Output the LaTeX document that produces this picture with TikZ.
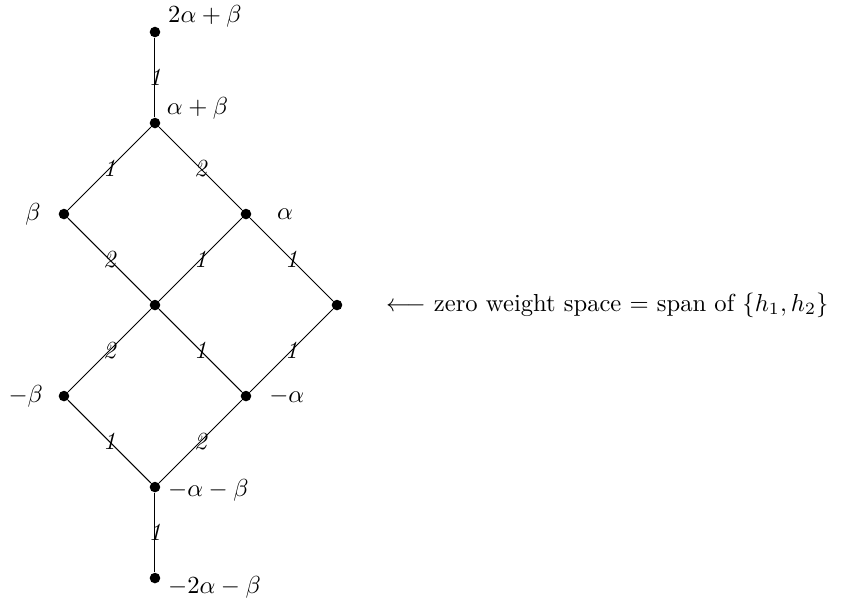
\documentclass[tikz,border=0pt]{standalone}
\usepackage{amsmath,amssymb}
\usepackage{tikz}
\usetikzlibrary{positioning}

\begin{document}
\begin{tikzpicture}[x=1.30cm,y=1.30cm,
  wt/.style={circle,fill=black,inner sep=0pt,minimum size=4.3pt},
  mult/.style={font=\itshape,inner sep=0pt}]
\useasboundingbox (-1.703,-3.264) rectangle (7.538,3.352);
% weights
\node[wt] (t2) at (0,3) {};
\node[wt] (t1) at (0,2) {};
\node[wt] (b) at (-1,1) {};
\node[wt] (a) at (1,1) {};
\node[wt] (z1) at (0,0) {};
\node[wt] (z2) at (2,0) {};
\node[wt] (mb) at (-1,-1) {};
\node[wt] (ma) at (1,-1) {};
\node[wt] (b1) at (0,-2) {};
\node[wt] (b2) at (0,-3) {};
% weight labels
\node[right=-0.5pt of t2,yshift=6.5pt] (lt2) {$2\alpha+\beta$};
\node[right=-1pt of t1,yshift=6.1pt] (lt1) {$\alpha+\beta$};
\node[left=3.6pt of b] (lb) {$\beta$};
\node[right=6.8pt of a] (la) {$\alpha$};
\node[left=2.7pt of mb] (lmb) {$-\beta$};
\node[right=3.6pt of ma] (lma) {$-\alpha$};
\node[right=-0.5pt of b1,yshift=-1.5pt] (lb1) {$-\alpha-\beta$};
\node[right=-0.5pt of b2,yshift=-3.7pt] (lb2) {$-2\alpha-\beta$};
\node[right=14.1pt of z2] (lz) {$\longleftarrow$ zero weight space $=$ span of $\{h_1,h_2\}$};
% strings
\draw (t2) -- node[mult] (m1) {1} (t1);
\draw (t1) -- node[mult] (m2) {1} (b);
\draw (t1) -- node[mult] (m3) {2} (a);
\draw (b) -- node[mult] (m4) {2} (z1);
\draw (a) -- node[mult] (m5) {1} (z1);
\draw (a) -- node[mult] (m6) {1} (z2);
\draw (z1) -- node[mult] (m7) {2} (mb);
\draw (z1) -- node[mult] (m8) {1} (ma);
\draw (z2) -- node[mult] (m9) {1} (ma);
\draw (mb) -- node[mult] (m10) {1} (b1);
\draw (ma) -- node[mult] (m11) {2} (b1);
\draw (b1) -- node[mult] (m12) {1} (b2);
\end{tikzpicture}
\end{document}
